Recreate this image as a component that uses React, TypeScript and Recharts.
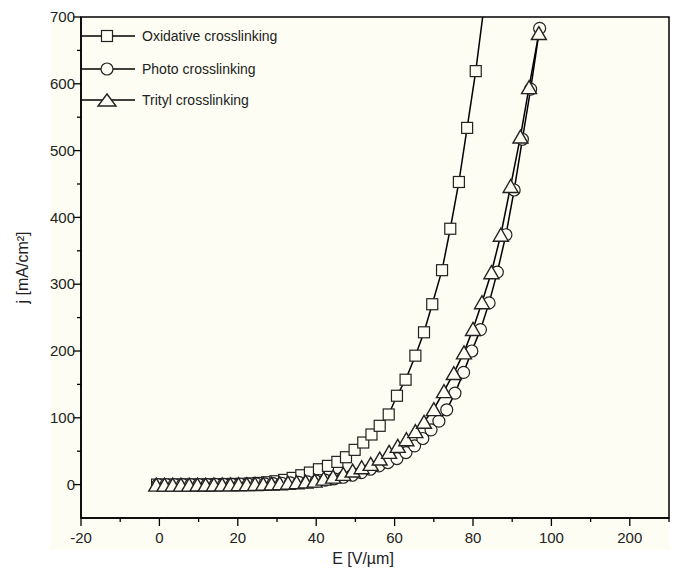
import React from "react";
import { LineChart, Line, XAxis, YAxis, ReferenceArea } from "recharts";

// Oxidative crosslinking (squares)
const oxE = [-0.6, 1.6, 3.7, 5.9, 8.0, 10.2, 12.4, 14.5, 16.7, 18.8, 21.0, 23.2, 25.3, 27.5, 29.6, 31.8, 34.0, 36.2, 38.4, 40.7, 43.0, 45.4, 47.6, 49.8, 52.0, 54.1, 56.2, 58.5, 60.6, 62.8, 65.3, 67.5, 69.6, 72.1, 74.2, 76.4, 78.5, 80.7, 82.9];
const oxJ = [0, 0, 0, 0.1, 0.2, 0.3, 0.4, 0.6, 0.8, 1.0, 1.2, 1.8, 2.5, 3.5, 5, 7, 10, 14, 18, 23, 28, 34, 41, 52, 63, 75, 88, 105, 133, 157, 193, 228, 270, 321, 383, 453, 534, 619, 720];

// Photo crosslinking (circles)
const phE = [-0.4, 1.7, 3.8, 5.9, 8.0, 10.1, 12.2, 14.3, 16.4, 18.5, 20.6, 22.7, 24.8, 26.9, 29.0, 31.2, 33.4, 35.6, 37.8, 40.0, 42.3, 44.6, 46.9, 49.2, 51.5, 53.8, 56.0, 58.3, 60.6, 62.9, 65.1, 67.2, 69.3, 71.3, 73.3, 75.4, 77.6, 79.7, 81.9, 84.1, 86.2, 88.4, 90.5, 92.6, 94.7, 97.0];
const phJ = [0, 0, 0, 0, 0, 0.1, 0.1, 0.2, 0.3, 0.4, 0.5, 0.7, 0.9, 1.2, 1.5, 2, 2.6, 3.3, 4.2, 5.3, 6.8, 8.7, 11, 14, 18, 23, 28, 33, 39, 48, 58, 69, 82, 95, 112, 137, 168, 200, 232, 272, 318, 374, 441, 517, 592, 683];

// Trityl crosslinking (triangles)
const trE = [-0.8, 1.3, 3.4, 5.5, 7.6, 9.7, 11.8, 13.9, 16.0, 18.1, 20.2, 22.3, 24.4, 26.5, 28.6, 30.7, 32.8, 35.0, 37.3, 39.6, 41.9, 44.3, 46.9, 49.3, 51.6, 53.9, 56.2, 58.6, 60.8, 63.0, 65.3, 67.5, 70.0, 72.6, 75.1, 77.7, 80.0, 82.3, 84.7, 87.1, 89.6, 92.1, 94.3, 96.8];
const trJ = [0, 0, 0, 0, 0, 0.1, 0.1, 0.2, 0.3, 0.4, 0.5, 0.7, 0.9, 1.2, 1.6, 2.1, 2.8, 3.6, 4.6, 6, 9, 12, 16, 21, 26, 31, 39, 49, 58, 68, 80, 94, 113, 140, 167, 198, 233, 273, 318, 374, 447, 521, 595, 676];

const seriesNames = ["Oxidative crosslinking", "Photo crosslinking", "Trityl crosslinking"];

// broken x axis: 100 -> 100, 200 is drawn at position 120
const xAllTicks = [-20, -10, 0, 10, 20, 30, 40, 50, 60, 70, 80, 90, 100, 110, 120, 130];
const xMajorTicks = [-20, 0, 20, 40, 60, 80, 100, 120];
const xMajorLabels = ["-20", "0", "20", "40", "60", "80", "100", "200"];
const yAllTicks = [0, 50, 100, 150, 200, 250, 300, 350, 400, 450, 500, 550, 600, 650, 700];
const yMajorTicks = [0, 100, 200, 300, 400, 500, 600, 700];

const toRows = (es: number[], js: number[]) => es.map((e, i) => ({ E: e, j: js[i] }));
const oxData = toRows(oxE, oxJ);
const phData = toRows(phE, phJ);
const trData = toRows(trE, trJ);

const BG = "#fdfdf3";
const FONT = "'Liberation Sans', Arial, Helvetica, sans-serif";
const MARK = "#222";

const squareShape = (cx: number, cy: number, key?: string) => (
  <rect key={key} x={cx - 5.5} y={cy - 5.5} width={11} height={11} fill={BG} stroke={MARK} strokeWidth={1.2} />
);
const circleShape = (cx: number, cy: number, key?: string) => (
  <circle key={key} cx={cx} cy={cy} r={6} fill={BG} stroke={MARK} strokeWidth={1.2} />
);
const triShape = (cx: number, cy: number, key?: string, w = 15, h = 13) => (
  <polygon
    key={key}
    points={`${cx},${cy - h / 2} ${cx + w / 2},${cy + h / 2} ${cx - w / 2},${cy + h / 2}`}
    fill={BG}
    stroke={MARK}
    strokeWidth={1.4}
    strokeLinejoin="miter"
  />
);

const XTick = (props: any) => {
  const { x, y, payload } = props;
  const idx = xMajorTicks.indexOf(payload.value);
  const major = idx >= 0;
  return (
    <g>
      <line x1={x} x2={x} y1={y} y2={y + (major ? 8 : 4)} stroke="#000" strokeWidth={1.3} />
      {major && (
        <text x={x} y={y + 14} dy="0.71em" textAnchor="middle" fontSize={15} fontFamily={FONT} fill="#222">
          {xMajorLabels[idx]}
        </text>
      )}
    </g>
  );
};

const YTick = (props: any) => {
  const { x, y, payload } = props;
  const major = yMajorTicks.includes(payload.value);
  return (
    <g>
      <line x1={x - (major ? 8 : 4)} x2={x} y1={y} y2={y} stroke="#000" strokeWidth={1.3} />
      {major && (
        <text x={x - 6} y={y} dy="0.35em" textAnchor="end" fontSize={15} fontFamily={FONT} fill="#222">
          {payload.value}
        </text>
      )}
    </g>
  );
};

const legendRows = [36, 69, 100];

export default function App() {
  return (
    <div style={{ position: "absolute", left: 0, top: 0, width: 676, height: 577, background: "#fff", overflow: "hidden" }}>
      <div style={{ position: "absolute", left: 50, top: 17, width: 620, height: 533, background: BG }} />
      <div style={{ position: "absolute", left: 0, top: 0 }}>
        <LineChart width={676} height={577} margin={{ top: 17, right: 7, left: 0, bottom: 0 }}>
          <XAxis
            type="number"
            dataKey="E"
            domain={[-20, 130]}
            ticks={xAllTicks}
            interval={0}
            allowDataOverflow
            height={59}
            tickSize={0}
            tickMargin={0}
            tickLine={false}
            tick={<XTick />}
            axisLine={{ stroke: "#000", strokeWidth: 1.5 }}
            label={{
              content: (p: any) => (
                <text
                  x={p.viewBox.x + p.viewBox.width / 2 - 12}
                  y={p.viewBox.y + 46}
                  textAnchor="middle"
                  fontSize={16}
                  fontFamily={FONT}
                  fill="#222"
                >
                  E [V/µm]
                </text>
              ),
            }}
          />
          <YAxis
            type="number"
            dataKey="j"
            domain={[-50, 700]}
            ticks={yAllTicks}
            interval={0}
            allowDataOverflow
            width={81}
            tickSize={0}
            tickMargin={0}
            tickLine={false}
            tick={<YTick />}
            axisLine={{ stroke: "#000", strokeWidth: 1.5 }}
            label={{
              content: (p: any) => {
                const cx = 22;
                const cy = p.viewBox.y + p.viewBox.height / 2;
                return (
                  <text
                    x={cx}
                    y={cy}
                    transform={`rotate(-90 ${cx} ${cy})`}
                    textAnchor="middle"
                    dy="0.35em"
                    fontSize={16}
                    fontFamily={FONT}
                    fill="#222"
                  >
                    j [mA/cm²]
                  </text>
                );
              },
            }}
          />
          <ReferenceArea x1={-20} x2={130} y1={-50} y2={700} fill="none" stroke="#000" strokeWidth={1.5} ifOverflow="visible" />
          <Line
            data={oxData}
            dataKey="j"
            name={seriesNames[0]}
            stroke="#000"
            strokeWidth={1.5}
            isAnimationActive={false}
            dot={(p: any) => squareShape(p.cx, p.cy, `sq-${p.index}`)}
            activeDot={false}
          />
          <Line
            data={phData}
            dataKey="j"
            name={seriesNames[1]}
            stroke="#000"
            strokeWidth={1.5}
            isAnimationActive={false}
            dot={(p: any) => circleShape(p.cx, p.cy, `ci-${p.index}`)}
            activeDot={false}
          />
          <Line
            data={trData}
            dataKey="j"
            name={seriesNames[2]}
            stroke="#000"
            strokeWidth={1.5}
            isAnimationActive={false}
            dot={(p: any) => triShape(p.cx, p.cy, `tr-${p.index}`)}
            activeDot={false}
          />
        </LineChart>
      </div>
      <svg width={676} height={130} style={{ position: "absolute", left: 0, top: 0, pointerEvents: "none" }}>
        {seriesNames.map((name, i) => {
          const y = legendRows[i];
          return (
            <g key={name}>
              <line x1={82} x2={135} y1={y} y2={y} stroke="#000" strokeWidth={1.6} />
              {i === 0 && squareShape(107, y)}
              {i === 1 && circleShape(107, y)}
              {i === 2 && triShape(107, y, undefined, 18, 12)}
              <text x={142} y={y} dy="0.35em" fontSize={14} fontFamily={FONT} fill="#222">
                {name}
              </text>
            </g>
          );
        })}
      </svg>
    </div>
  );
}
